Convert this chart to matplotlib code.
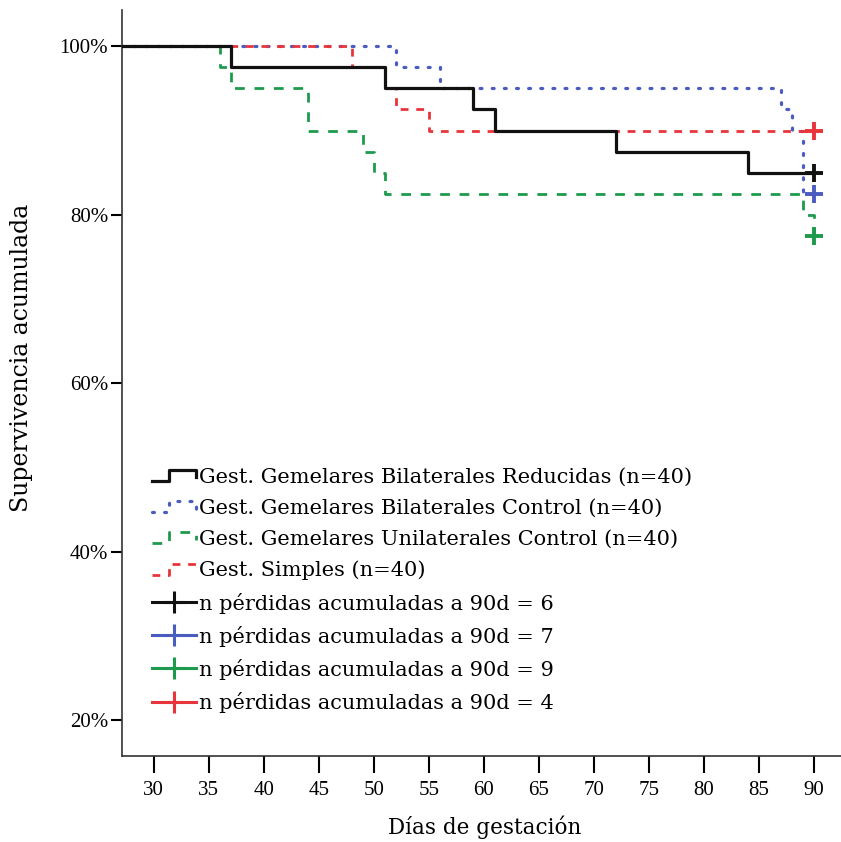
import matplotlib
matplotlib.use("Agg")
import matplotlib.pyplot as plt
from matplotlib.lines import Line2D
from matplotlib.legend_handler import HandlerBase

# Kaplan-Meier data (days, cumulative survival %)
t_reducidas = [27, 37, 51, 59, 61, 72, 84, 90]
s_reducidas = [100, 97.5, 95, 92.5, 90, 87.5, 85, 85]

t_bil_control = [27, 52, 56, 87, 88, 89, 90]
s_bil_control = [100, 97.5, 95, 92.5, 90, 82.5, 82.5]

t_unil_control = [27, 36, 37, 44, 49, 50, 51, 89, 90]
s_unil_control = [100, 97.5, 95, 90, 87.5, 85, 82.5, 80, 77.5]

t_simples = [27, 48, 51, 52, 55, 90]
s_simples = [100, 97.5, 95, 92.5, 90, 90]

labels = ['Gest. Gemelares Bilaterales Reducidas (n=40)',
          'Gest. Gemelares Bilaterales Control (n=40)',
          'Gest. Gemelares Unilaterales Control (n=40)',
          'Gest. Simples (n=40)']
losses = [6, 7, 9, 4]
colors = ['#111111', '#4a5cc0', '#1e9a4c', '#e8353c']

xticks = list(range(30, 95, 5))
yticks = [20, 40, 60, 80, 100]

plt.rcParams['font.family'] = ['DejaVu Serif']
tick_font = ['Liberation Serif', 'DejaVu Serif']


class StepHandler(HandlerBase):
    def create_artists(self, legend, orig_handle, xdescent, ydescent,
                       width, height, fontsize, trans):
        x0 = -xdescent
        y0 = -ydescent
        xs = [x0, x0 + 0.4 * width, x0 + 0.4 * width, x0 + width, x0 + width]
        ys = [y0 + 0.1 * height, y0 + 0.1 * height, y0 + 0.85 * height,
              y0 + 0.85 * height, y0 + 0.35 * height]
        line = Line2D(xs, ys)
        line.update_from(orig_handle)
        line.set_transform(trans)
        return [line]


fig = plt.figure(figsize=(8.41, 8.42), dpi=100)
ax = fig.add_axes([0.145, 0.102, 0.855, 0.886])

series = [(t_reducidas, s_reducidas), (t_bil_control, s_bil_control),
          (t_unil_control, s_unil_control), (t_simples, s_simples)]
styles = [dict(linestyle='-', linewidth=2.3),
          dict(linestyle=(0, (0.6, 3.2)), linewidth=2.3, dash_capstyle='round'),
          dict(linestyle=(0, (3.5, 3.5)), linewidth=2.0),
          dict(linestyle=(0, (2.8, 2.8)), linewidth=2.0)]
order = [2, 1, 3, 0]
step_handles = [None] * 4
for i in order:
    t, s = series[i]
    ln, = ax.step(t, s, where='post', color=colors[i], zorder=3 + (i == 0), **styles[i])
    step_handles[i] = ln
    ax.plot(t[-1], s[-1], marker='+', markersize=13, mew=2.8,
            color=colors[i], linestyle='none', zorder=6)

plus_handles = [Line2D([], [], color=c, marker='+', markersize=16, mew=2.2, lw=2.2)
                for c in colors]
plus_labels = ['n pérdidas acumuladas a 90d = {}'.format(n) for n in losses]

ax.legend(step_handles + plus_handles, labels + plus_labels,
          handler_map={h: StepHandler() for h in step_handles},
          loc='upper left', bbox_to_anchor=(0.03, 0.398), frameon=False,
          fontsize=15, handlelength=2.1, handletextpad=0.15,
          labelspacing=0.58, borderaxespad=0)

ax.set_xlim(27.1, 92.45)
ax.set_ylim(15.7, 104.3)
ax.set_xticks(xticks)
ax.set_yticks(yticks)
ax.set_yticklabels(['{}%'.format(v) for v in yticks])
ax.tick_params(axis='x', direction='out', length=12, width=1.5, pad=6, labelsize=15)
ax.tick_params(axis='y', direction='out', length=8, width=1.5, pad=2, labelsize=15)
for lab in ax.get_xticklabels() + ax.get_yticklabels():
    lab.set_family(tick_font)
for side in ['top', 'right']:
    ax.spines[side].set_visible(False)
for side in ['left', 'bottom']:
    ax.spines[side].set_linewidth(1.2)
    ax.spines[side].set_color('#333333')

ax.set_xlabel('Días de gestación', fontsize=15.5)
ax.set_ylabel('Supervivencia acumulada', fontsize=17)
ax.xaxis.set_label_coords(0.505, -0.08)
ax.yaxis.set_label_coords(-0.124, 0.534)

fig.savefig('out.png', dpi=100)
